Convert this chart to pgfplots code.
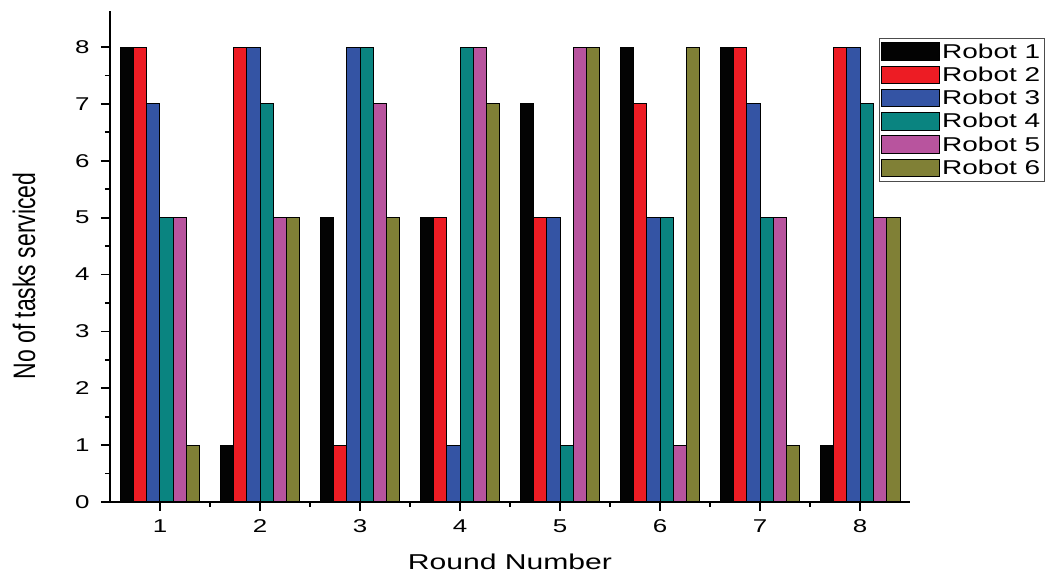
\documentclass[border=0pt]{standalone}
\usepackage{fontspec}
\setmainfont{Liberation Sans}[FakeStretch=1.4]
\newfontfamily\plainsans{Liberation Sans}
\usepackage{graphicx}
\usepackage{pgfplots}
\pgfplotsset{compat=1.18}
\definecolor{r1}{RGB}{3,3,3}
\definecolor{r2}{RGB}{237,28,36}
\definecolor{r3}{RGB}{52,84,164}
\definecolor{r4}{RGB}{10,132,128}
\definecolor{r5}{RGB}{184,84,158}
\definecolor{r6}{RGB}{128,128,54}
\begin{document}
\begin{tikzpicture}
\begin{axis}[
  name=ax,
  scale only axis,
  width=800pt, height=491.3pt,
  xmin=0.5, xmax=8.5, ymin=0, ymax=8.64,
  axis x line*=bottom, axis y line*=left,
  axis line style={line width=1.8pt},
  xtick={1,...,8}, ytick={0,...,8},
  minor x tick num=1, minor y tick num=1,
  tick align=outside,
  major tick length=9pt, minor tick length=5pt,
  tick style={line width=1.8pt, black},
  /pgf/number format/assume math mode=true,
  ticklabel style={font=\fontsize{18.5}{21}\selectfont},
  xticklabel style={yshift=-5pt},
  yticklabel style={xshift=-8pt},
  xlabel={Round Number},
  ylabel={\scalebox{1}[1.35]{\plainsans No of tasks serviced}},
  xlabel style={font=\fontsize{21.5}{25}\selectfont, at={(axis description cs:0.5,0)}, anchor=center, yshift=-60pt},
  ylabel style={font=\fontsize{23}{26}\selectfont, at={(axis description cs:0,0.46)}, anchor=center, yshift=86pt},
  ybar=0pt, bar width=13.33pt,
  legend image code/.code={\draw[#1, line width=1pt] (0pt,-8.8pt) rectangle (58pt,8.8pt);},
  legend style={at={(axis description cs:0.961,0.944)}, anchor=north west,
    draw=black!70, line width=0.8pt, font=\fontsize{20}{23}\selectfont,
    row sep=3.3pt, inner xsep=2pt, inner ysep=3pt},
  legend cell align=left,
  every axis plot/.append style={draw=black, line width=1pt},
]
\addplot[fill=r1] coordinates {(1,8) (2,1) (3,5) (4,5) (5,7) (6,8) (7,8) (8,1)};
\addplot[fill=r2] coordinates {(1,8) (2,8) (3,1) (4,5) (5,5) (6,7) (7,8) (8,8)};
\addplot[fill=r3] coordinates {(1,7) (2,8) (3,8) (4,1) (5,5) (6,5) (7,7) (8,8)};
\addplot[fill=r4] coordinates {(1,5) (2,7) (3,8) (4,8) (5,1) (6,5) (7,5) (8,7)};
\addplot[fill=r5] coordinates {(1,5) (2,5) (3,7) (4,8) (5,8) (6,1) (7,5) (8,5)};
\addplot[fill=r6] coordinates {(1,1) (2,5) (3,5) (4,7) (5,8) (6,8) (7,1) (8,5)};
\legend{Robot 1,Robot 2,Robot 3,Robot 4,Robot 5,Robot 6}
\end{axis}
\pgfresetboundingbox
\path ([xshift=-110pt,yshift=-75pt]ax.south west) rectangle ([xshift=144pt,yshift=10.7pt]ax.north east);
\end{tikzpicture}
\end{document}
